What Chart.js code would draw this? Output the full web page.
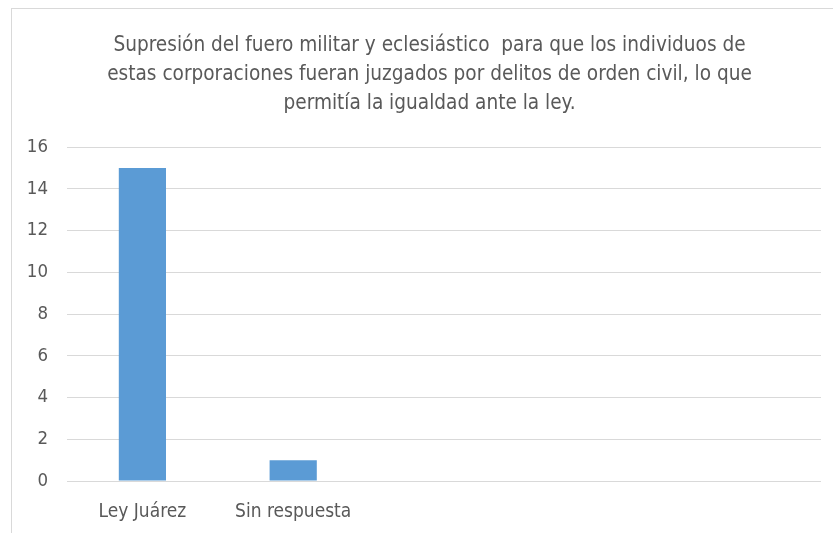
<!DOCTYPE html>
<html>
<head>
<meta charset="utf-8">
<script src="https://cdn.jsdelivr.net/npm/chart.js@4"></script>
<style>
  html, body { margin: 0; padding: 0; background: #fff; overflow: hidden; width: 833px; height: 533px; }
  #frame {
    position: absolute; left: 11px; top: 8px; width: 848px; height: 525px;
    border-left: 1px solid #d9d9d9; border-top: 1px solid #d9d9d9;
  }
</style>
</head>
<body>
<div id="frame"><canvas id="c"></canvas></div>
<script>
const titleLines = [
  "Supresión del fuero militar y eclesiástico  para que los individuos de",
  "estas corporaciones fueran juzgados por delitos de orden civil, lo que",
  "permitía la igualdad ante la ley.",
];
const categories = ["Ley Juárez", "Sin respuesta", "", "", ""];
const values = [15, 1, null, null, null];
const yTicks = [0, 2, 4, 6, 8, 10, 12, 14, 16];

const FONT = "'Liberation Sans Narrow', 'DejaVu Sans Condensed', sans-serif";
const GREY = "#595959";

new Chart(document.getElementById("c"), {
  type: "bar",
  data: {
    labels: categories,
    datasets: [{
      data: values,
      backgroundColor: "#5b9bd5",
      barPercentage: 0.313,
      categoryPercentage: 1,
    }],
  },
  options: {
    responsive: true,
    maintainAspectRatio: false,
    animation: false,
    layout: { padding: { left: 0, right: 13, top: 0, bottom: 0 } },
    plugins: {
      legend: { display: false },
      tooltip: { enabled: false },
      title: {
        display: true,
        text: titleLines,
        color: GREY,
        font: { family: FONT, size: 20.6, weight: "normal", lineHeight: 1.41 },
        padding: { top: 22, bottom: 29 },
      },
    },
    scales: {
      x: {
        grid: { display: false },
        border: { display: false },
        ticks: { color: GREY, font: { family: FONT, size: 19 }, padding: 12, maxRotation: 0, autoSkip: false },
        afterFit: (s) => { s.height = 53; },
      },
      y: {
        min: 0,
        max: 16,
        afterBuildTicks: (s) => { s.ticks = yTicks.map((v) => ({ value: v })); },
        grid: { color: "#d9d9d9", lineWidth: 1, drawTicks: false },
        border: { display: false },
        ticks: { color: GREY, font: { family: FONT, size: 18.5 }, padding: 19 },
        afterFit: (s) => { s.width = 55; },
      },
      // empty spacer on the right, the page is cut off beyond the window
      yRight: {
        position: "right",
        grid: { display: false },
        border: { display: false },
        ticks: { display: false },
        afterFit: (s) => { s.width = 26; },
      },
    },
  },
});
</script>
</body>
</html>
